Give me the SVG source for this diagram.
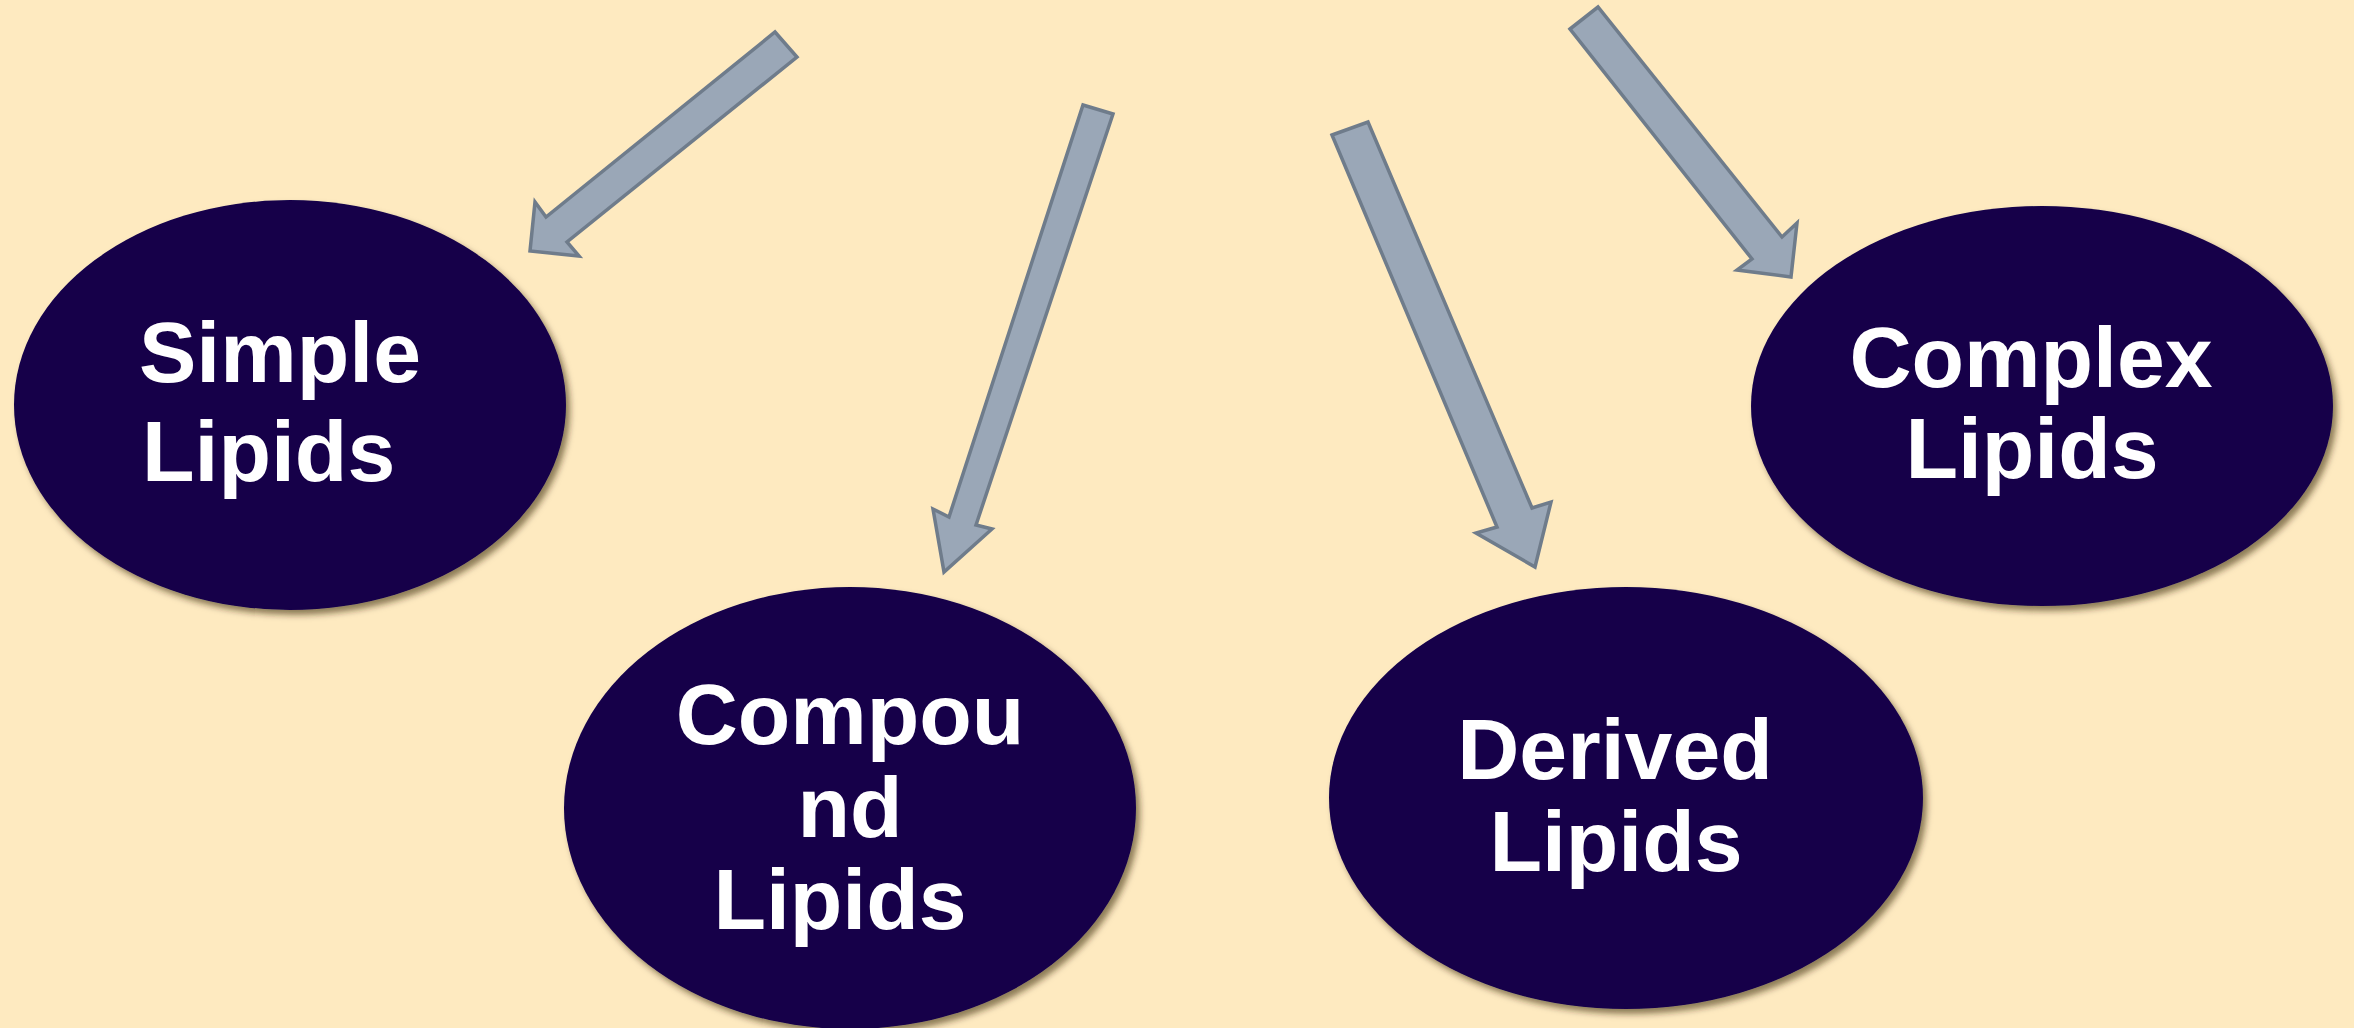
<svg xmlns="http://www.w3.org/2000/svg" width="2354" height="1028" viewBox="0 0 2354 1028">
<defs>
<filter id="sh" x="-10%" y="-10%" width="125%" height="125%">
<feDropShadow dx="4" dy="5" stdDeviation="3" flood-color="#2e2400" flood-opacity="0.55"/>
</filter>
<style>
.bg{fill:#FEEAC0}
.node{fill:#13004A;filter:url(#sh)}
.lbl{font-family:"Liberation Sans",Arial,sans-serif;font-weight:bold;font-size:86px;fill:#FFFFFF}
.arr{fill:#9AA7B7;stroke:#6F7C8B;stroke-width:3.5;stroke-linejoin:miter}
</style>
</defs>
<rect class="bg" x="0" y="0" width="2354" height="1028"/>
<g id="connectors">
<polygon class="arr" points="775,32 797,57 567,242 579,256 530,251 535,202 546,217"/>
<polygon class="arr" points="1083,105 1113,114 976,525 992,529 944,572 933,509 949,517"/>
<polygon class="arr" points="1332,135 1368,122 1532,508 1551,502 1535,567 1476,533 1497,527"/>
<polygon class="arr" points="1570,29 1598,7 1782,237 1797,223 1791,277 1737,270 1752,259"/>
</g>
<g id="simple">
<ellipse class="node" cx="290" cy="405" rx="276" ry="205"/>
<text class="lbl" x="139" y="382">Simple</text>
<text class="lbl" x="142" y="481">Lipids</text>
</g>
<g id="compound">
<ellipse class="node" cx="850" cy="808" rx="286" ry="221"/>
<text class="lbl" text-anchor="middle" x="850" y="744">Compou</text>
<text class="lbl" text-anchor="middle" x="850" y="837">nd</text>
<text class="lbl" text-anchor="middle" x="840" y="929">Lipids</text>
</g>
<g id="derived">
<ellipse class="node" cx="1626" cy="798" rx="297" ry="211"/>
<text class="lbl" text-anchor="middle" x="1615" y="779">Derived</text>
<text class="lbl" text-anchor="middle" x="1616" y="871">Lipids</text>
</g>
<g id="complex">
<ellipse class="node" cx="2042" cy="406" rx="291" ry="200"/>
<text class="lbl" text-anchor="middle" x="2031" y="387">Complex</text>
<text class="lbl" text-anchor="middle" x="2032" y="478">Lipids</text>
</g>
</svg>
